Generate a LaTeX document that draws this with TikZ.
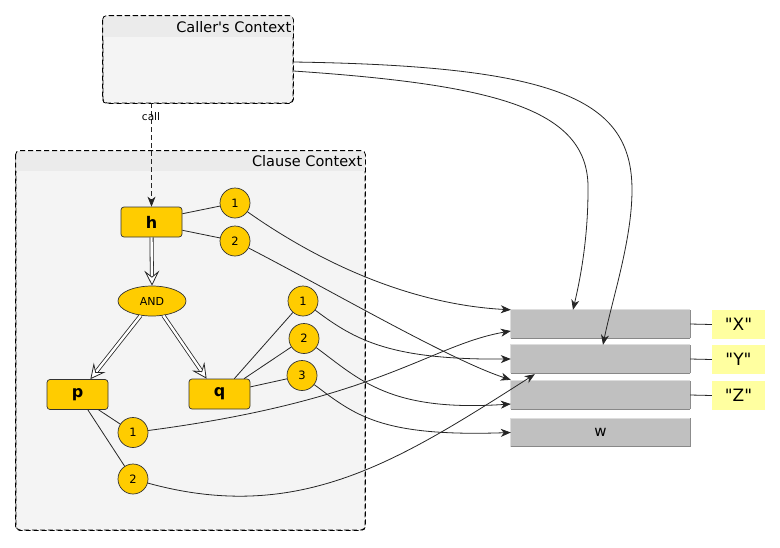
\documentclass[tikz,border=0pt]{standalone}
\usepackage{fontspec}
\setmainfont{DejaVu Sans}[Ligatures=TeXOff]
\usetikzlibrary{arrows.meta,shapes.geometric,calc}
\definecolor{ctxbody}{HTML}{F4F4F4}
\definecolor{ctxhead}{HTML}{EBEBEB}
\definecolor{gold}{HTML}{FFCC00}
\definecolor{cellgray}{HTML}{C0C0C0}
\definecolor{celldark}{HTML}{888888}
\definecolor{celllight}{HTML}{DDDDDD}
\definecolor{lblyellow}{HTML}{FFFFA0}
\tikzset{
  dsh/.style={dash pattern=on 5pt off 3pt},
  ctx/.style={draw=black, dsh, line width=0.8pt, rounded corners=4pt, fill=ctxbody, inner sep=0pt},
  ctxtitle/.style={anchor=east, font=\fontsize{14.5}{16}\selectfont, inner sep=0pt},
  pred/.style={draw=black!80, fill=gold, rounded corners=3pt, minimum width=61pt, minimum height=30pt, inner sep=0pt, font=\fontsize{16}{18}\selectfont\bfseries, line width=0.7pt},
  arg/.style={circle, draw=black!80, fill=gold, minimum size=30pt, inner sep=0pt, font=\fontsize{11.5}{13}\selectfont, line width=0.7pt},
  andnode/.style={ellipse, draw=black!80, fill=gold, minimum width=68pt, minimum height=30pt, inner sep=0pt, font=\fontsize{11}{12}\selectfont, line width=0.7pt},
  cellbox/.style={fill=cellgray, minimum width=179pt, minimum height=28pt, inner sep=0pt, font=\fontsize{15}{16}\selectfont},
  lbl/.style={fill=lblyellow, minimum width=53pt, minimum height=29pt, inner sep=0pt, font=\fontsize{17}{18}\selectfont},
  conn/.style={line width=0.8pt, black!85},
  arr/.style={conn, -{Stealth[length=10pt, width=8pt, inset=3pt]}},
  dblline/.style={double=white, double distance=2.4pt, line width=0.8pt, black!85, shorten >=5pt},
  openhead/.style={line width=0.8pt, black!85, -{Stealth[open, fill=white, length=15pt, width=15pt, inset=6pt]}},
}
\begin{document}
\begin{tikzpicture}[x=1pt, y=-1pt]
\useasboundingbox (0,0) rectangle (780,547);
\fill[white] (0,0) rectangle (780,547);
% Caller's context
\node[ctx, minimum width=190pt, minimum height=87pt] (caller) at (198,59.5) {};
\begin{scope}
  \clip[rounded corners=4pt] (caller.north west) rectangle (caller.south east);
  \fill[ctxhead] (caller.north west) rectangle ($(caller.north east)+(0,21)$);
\end{scope}
\draw[dsh, line width=0.8pt, rounded corners=4pt] (caller.north west) rectangle (caller.south east);
\node[ctxtitle] (callertitle) at ($(caller.north east)+(-2,11)$) {Caller's Context};
% Clause context
\node[ctx, minimum width=349pt, minimum height=379pt] (clause) at (190.5,340.5) {};
\begin{scope}
  \clip[rounded corners=4pt] (clause.north west) rectangle (clause.south east);
  \fill[ctxhead] (clause.north west) rectangle ($(clause.north east)+(0,20)$);
\end{scope}
\draw[dsh, line width=0.8pt, rounded corners=4pt] (clause.north west) rectangle (clause.south east);
\node[ctxtitle] (clausetitle) at ($(clause.north east)+(-3,10.5)$) {Clause Context};
% predicates
\node[pred] (h) at (151.5,222) {h};
\node[andnode] (and) at (152,301) {AND};
\node[pred] (p) at (77.5,394.5) {p};
\node[pred] (q) at (219.5,394) {q};
% args
\node[arg] (h1) at (235,203) {1};
\node[arg] (h2) at (235,241) {2};
\node[arg] (q1) at (303,301) {1};
\node[arg] (q2) at (304,338.5) {2};
\node[arg] (q3) at (302,375.5) {3};
\node[arg] (p1) at (133,432.5) {1};
\node[arg] (p2) at (133,479) {2};
% call
\draw[conn, dsh, -{Stealth[length=10pt, width=8pt, inset=3pt]}] (caller.south -| h.north) -- (h.north);
\node[font=\fontsize{10.5}{12}\selectfont, inner sep=0pt] (calllbl) at (151,117) {call};
% double arrows
\draw[dblline] (h.south) -- (and.north);
\draw[openhead] ($(and.north)!2pt!(h.south)$) -- (and.north);
\draw[dblline] (and.232) -- (p.50);
\draw[openhead] ($(p.50)!2pt!(and.232)$) -- (p.50);
\draw[dblline] (and.308) -- (q.130);
\draw[openhead] ($(q.130)!2pt!(and.308)$) -- (q.130);
% pred-arg lines
\draw[conn] (h.15) -- (h1);
\draw[conn] (h.-15) -- (h2);
\draw[conn] (q.46) -- (q1);
\draw[conn] (q.32) -- (q2);
\draw[conn] (q.13) -- (q3);
\draw[conn] (p.-36) -- (p1);
\draw[conn] (p.-56) -- (p2);
% cells
\node[cellbox] (c1) at (600.5,324) {};
\node[cellbox] (c2) at (600.5,359) {};
\node[cellbox] (c3) at (600.5,395) {};
\node[cellbox] (c4) at (600.5,432.5) {w};
\foreach \c in {c1,c2,c3,c4}{
  \draw[celllight, line width=1pt] (\c.south west) -- (\c.north west) -- (\c.north east);
  \draw[celldark, line width=1.2pt] (\c.south west) -- (\c.south east);
  \draw[black!45, line width=1pt] (\c.south east) -- (\c.north east);
}
\node[lbl] (lx) at (738.5,324.5) {"X"};
\node[lbl] (ly) at (738.5,359.5) {"Y"};
\node[lbl] (lz) at (738.5,395.5) {"Z"};
\draw[conn] (c1.east) -- (lx.west);
\draw[conn] (c2.east) -- (ly.west);
\draw[conn] (c3.east) -- (lz.west);
% caller arrows
\coordinate (k1) at (632,190);
\coordinate (k2) at (588,190);
\draw[arr] ([yshift=-2.5pt]caller.east) .. controls (560,66) and (632,100) .. (k1)
   .. controls (632,240) and (612,300) .. ([xshift=2.5pt]c2.north);
\draw[arr] ([yshift=-11.5pt]caller.east) .. controls (500,85) and (590,110) .. (k2)
   .. controls (588,240) and (580,280) .. ([xshift=-27.5pt]c1.north);
% arg arrows
\draw[arr] (h1) .. controls (330,270) and (420,305) .. (c1.north west);
\draw[arr] (h2) .. controls (330,290) and (450,360) .. ([yshift=1pt]c3.north west);
\draw[arr] (q1) .. controls (355,340) and (390,360) .. (c2.west);
\draw[arr] (q2) .. controls (360,380) and (390,412) .. ([yshift=-9pt]c3.west);
\draw[arr] (q3) .. controls (355,415) and (380,437) .. (c4.west);
\draw[arr] (p1) .. controls (380,400) and (430,345) .. ([yshift=-7pt]c1.west);
\draw[arr] (p2) .. controls (300,525) and (400,460) .. ([xshift=24pt,yshift=-1pt]c2.south west);
\end{tikzpicture}
\end{document}
